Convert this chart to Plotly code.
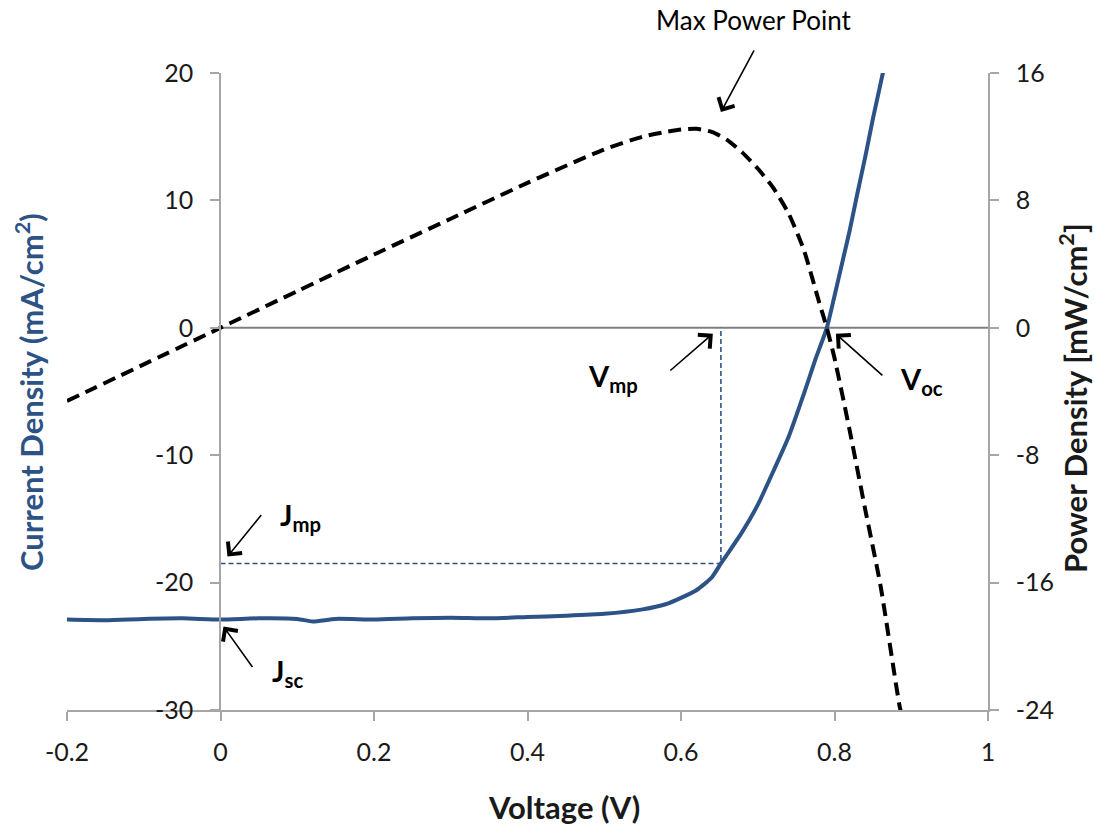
import plotly.graph_objects as go

# ---------------- data ----------------
voltage = [-0.2, -0.15, -0.1, -0.05, 0.0, 0.05, 0.1, 0.12, 0.15, 0.2, 0.25, 0.3, 0.35,
           0.4, 0.45, 0.5, 0.55, 0.58, 0.6, 0.62, 0.64, 0.652, 0.66, 0.68, 0.7, 0.72,
           0.74, 0.76, 0.775, 0.79, 0.8, 0.81, 0.82, 0.83, 0.84, 0.85, 0.863, 0.875, 0.89]
current_density = [-22.9, -22.95, -22.85, -22.8, -22.9, -22.8, -22.85, -23.05, -22.85, -22.9,
                   -22.8, -22.75, -22.8, -22.7, -22.6, -22.45, -22.1, -21.7, -21.2, -20.6,
                   -19.6, -18.5, -17.8, -16.0, -13.9, -11.3, -8.6, -5.2, -2.5, 0.0, 2.5,
                   5.1, 7.7, 10.6, 13.4, 16.4, 20.0, 23.5, 28.0]

power_voltage = [-0.2, 0.0, 0.1, 0.2, 0.3, 0.4, 0.5, 0.55, 0.58, 0.6, 0.62, 0.64, 0.66,
                 0.68, 0.7, 0.72, 0.74, 0.76, 0.78, 0.79, 0.8, 0.82, 0.84, 0.86, 0.885, 0.89]
power_density = [-4.6, 0.0, 2.3, 4.6, 6.85, 9.1, 11.2, 12.0, 12.3, 12.45, 12.5, 12.3, 11.8,
                 11.0, 10.0, 8.8, 7.2, 4.9, 1.6, 0.0, -1.9, -6.5, -11.4, -16.2, -23.8, -24.8]

# maximum-power guide lines (V_mp, J_mp)
v_mp = 0.652
j_mp = -18.5
mp_guide_v = [0.0, v_mp, v_mp]
mp_guide_j = [j_mp, j_mp, 0.0]

x_ticks = [-0.2, 0.0, 0.2, 0.4, 0.6, 0.8, 1.0]
x_tick_text = ["-0.2", "0", "0.2", "0.4", "0.6", "0.8", "1"]
j_ticks = [-30, -20, -10, 0, 10, 20]
j_tick_text = ["-30", "-20", "-10", "0", "10", "20"]
p_ticks = [-24, -16, -8, 0, 8, 16]
p_tick_text = ["-24", "-16", "-8", "0", "8", "16"]

# ---------------- styles ----------------
FONT = "Lato"
BLUE = "#2C5286"
AXIS_GREY = "#A6A6A6"
TEXT = "#1a1a1a"

fig = go.Figure()

fig.add_trace(go.Scatter(
    x=mp_guide_v, y=mp_guide_j, mode="lines", yaxis="y",
    line=dict(color=BLUE, width=1.6, dash="5px,3px"), hoverinfo="skip", showlegend=False))

fig.add_trace(go.Scatter(
    x=voltage, y=current_density, mode="lines", name="Current Density", yaxis="y",
    line=dict(color=BLUE, width=4, shape="spline", smoothing=0.6), showlegend=False))

fig.add_trace(go.Scatter(
    x=power_voltage, y=power_density, mode="lines", name="Power Density", yaxis="y2",
    line=dict(color="black", width=4, dash="13px,7px", shape="spline", smoothing=0.6),
    showlegend=False))

# horizontal zero line
fig.add_shape(type="line", xref="x", yref="y", x0=0, x1=1, y0=0, y1=0,
              line=dict(color="#808080", width=2), layer="below")

axis_common = dict(showline=True, linecolor=AXIS_GREY, linewidth=1.5, ticks="outside",
                   ticklen=9, tickwidth=1.5, tickcolor=AXIS_GREY, showgrid=False,
                   zeroline=False, tickfont=dict(family=FONT, size=25, color=TEXT))

fig.update_layout(
    width=1095, height=828,
    margin=dict(l=67, r=107, t=73, b=118),
    paper_bgcolor="white", plot_bgcolor="white",
    font=dict(family=FONT, color=TEXT),
    xaxis=dict(range=[-0.2, 1.0], tickvals=x_ticks, ticktext=x_tick_text,
               ticklabelstandoff=10, **axis_common),
    yaxis=dict(range=[-30, 20], tickvals=j_ticks, ticktext=j_tick_text,
               anchor="free", position=153 / 921, ticklabelstandoff=12, **axis_common),
    yaxis2=dict(range=[-24, 16], tickvals=p_ticks, ticktext=p_tick_text,
                overlaying="y", side="right", anchor="x", ticklabelstandoff=12,
                **axis_common),
)

W, H = 921, 637  # plot-area size in px


def px_x(px):
    return (px - 67) / W


def px_y(py):
    return (710 - py) / H


# axis titles
fig.add_annotation(text="<b>Voltage (V)</b>", xref="paper", yref="paper",
                   x=px_x(564), y=px_y(807), xanchor="center", yanchor="middle",
                   showarrow=False, font=dict(family=FONT, size=31, color=TEXT))
fig.add_annotation(text="<b>Current Density (mA/cm<sup>2</sup>)</b>", xref="paper", yref="paper",
                   x=px_x(29), y=px_y(392), xanchor="center", yanchor="middle",
                   textangle=-90, showarrow=False, font=dict(family=FONT, size=31, color=BLUE))
fig.add_annotation(text="<b>Power Density [mW/cm<sup>2</sup>]</b>", xref="paper", yref="paper",
                   x=px_x(1073), y=px_y(398), xanchor="center", yanchor="middle",
                   textangle=-90, showarrow=False, font=dict(family=FONT, size=31, color=TEXT))

# callout arrows
arrow_style = dict(showarrow=True, arrowhead=4, arrowsize=2.2, arrowwidth=1.6,
                   arrowcolor="black", text="", xref="x", yref="y")
fig.add_annotation(x=0.652, y=16.94, ax=34, ay=-63, **arrow_style)      # max power point
fig.add_annotation(x=0.6415, y=-0.47, ax=-44, ay=38, **arrow_style)     # V_mp
fig.add_annotation(x=0.8018, y=-0.47, ax=48, ay=43, **arrow_style)      # V_oc
fig.add_annotation(x=0.0091, y=-17.96, ax=35, ay=-43, **arrow_style)    # J_mp
fig.add_annotation(x=0.0039, y=-23.45, ax=30, ay=42, **arrow_style)     # J_sc

# callout labels
label_font = dict(family=FONT, size=29, color="black")
fig.add_annotation(text="Max Power Point", xref="paper", yref="paper",
                   x=px_x(754), y=px_y(20), xanchor="center", yanchor="middle",
                   showarrow=False, font=dict(family=FONT, size=26, color="black"))
callouts = [("<b>V<sub>mp</sub></b>", 613, 377), ("<b>V<sub>oc</sub></b>", 921, 381),
            ("<b>J<sub>mp</sub></b>", 300, 516), ("<b>J<sub>sc</sub></b>", 287, 672)]
for txt, cx, cy in callouts:
    fig.add_annotation(text=txt, xref="paper", yref="paper", x=px_x(cx), y=px_y(cy),
                       xanchor="center", yanchor="middle", showarrow=False, font=label_font)

fig.write_html("out.html")
